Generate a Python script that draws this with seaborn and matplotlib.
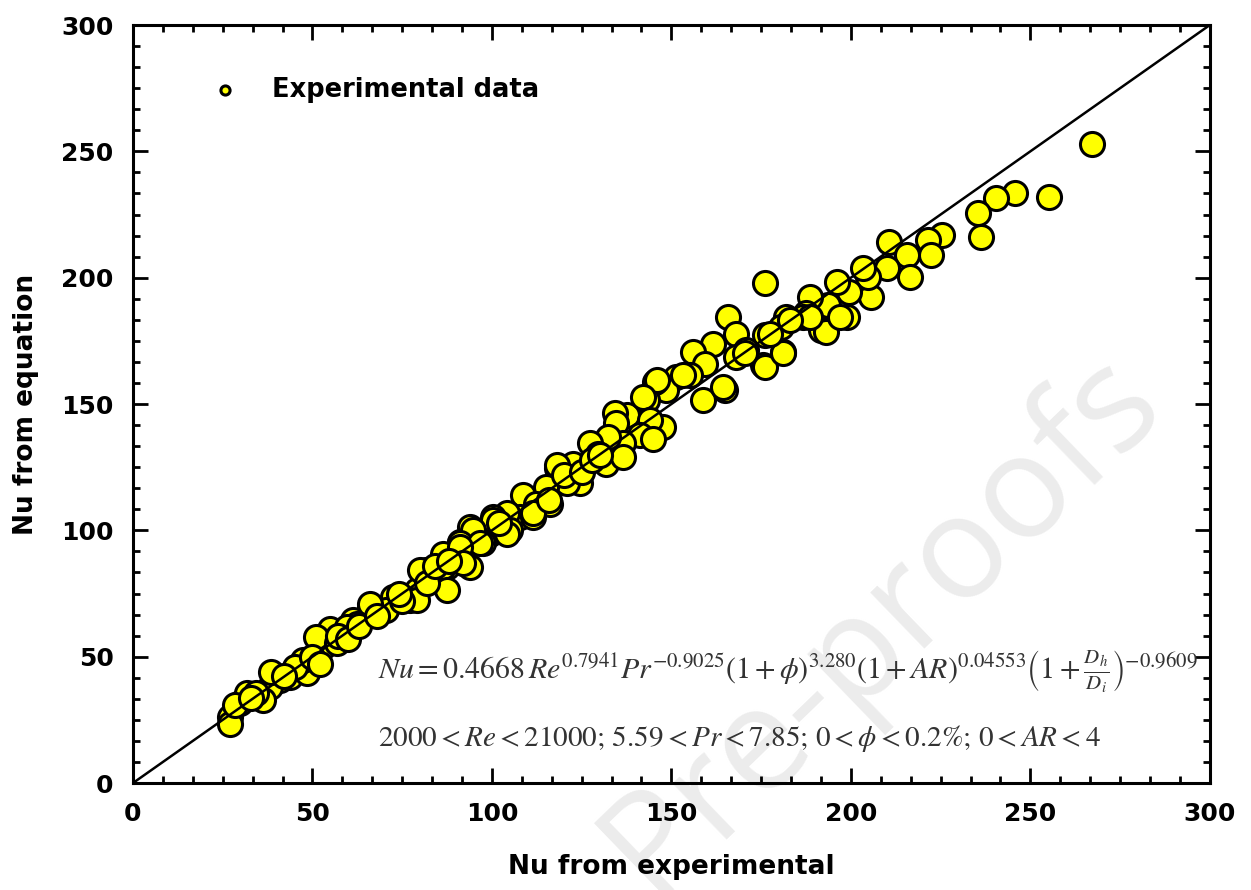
import numpy as np
import pandas as pd
import matplotlib
matplotlib.use("Agg")
import matplotlib.pyplot as plt
import seaborn as sns
from matplotlib.ticker import MultipleLocator, AutoMinorLocator

# ---- data ----
nu_exp = [
    267.3, 255.2, 245.7, 240.4, 235.5, 236.2, 225.5, 221.6, 222.4, 210.7,
    215.5, 216.4, 210.1, 205.7, 204.9, 203.3, 199.4, 196.1, 198.8, 191.8,
    193.7, 188.6, 187.6, 186.7, 182.0, 180.6, 181.1, 176.0, 165.8, 168.1,
    176.0, 175.5, 170.9, 168.1, 161.6, 156.0, 159.3, 164.9, 158.9, 155.2,
    151.4, 148.6, 145.4, 143.1, 137.5, 134.3, 170.5, 176.0, 181.1, 193.2,
    197.0, 188.6, 183.0, 177.4, 164.4, 153.3, 145.9, 142.1, 147.7, 144.0,
    134.7, 141.2, 136.6, 132.4, 127.3, 129.6, 131.9, 136.6, 122.7, 118.0,
    124.5, 120.8, 115.2, 108.7, 112.4, 116.2, 107.8, 111.5, 104.1, 100.4,
    105.0, 99.4, 93.9, 91.1, 97.6, 111.5, 100.4, 104.1, 94.8, 91.1,
    96.7, 86.4, 93.9, 81.7, 87.4, 85.5, 79.0, 72.5, 77.2, 70.6,
    66.0, 61.3, 54.9, 91.1, 86.4, 79.9, 92.0, 87.4, 79.0, 66.0,
    62.3, 59.5, 53.0, 51.1, 56.7, 43.7, 48.4, 47.4, 40.9, 38.2,
    36.3, 29.8, 27.0, 27.0, 31.7, 34.4, 38.5, 45.0, 50.0, 52.0,
    57.0, 60.0, 63.0, 68.0, 75.0, 82.0, 84.0, 88.0, 118.0, 120.0,
    125.0, 128.0, 130.0, 116.0, 145.0, 28.5, 33.0, 42.0, 74.0, 102.0,
]
nu_eq = [
    253.1, 231.8, 233.6, 231.6, 225.7, 216.2, 217.0, 214.9, 208.9, 214.3,
    208.9, 200.4, 203.7, 192.4, 200.4, 203.7, 194.5, 198.4, 184.5, 179.3,
    189.2, 192.4, 185.9, 184.5, 184.5, 180.5, 170.6, 197.8, 184.5, 177.9,
    177.3, 165.4, 171.3, 168.6, 173.9, 170.6, 166.0, 155.5, 151.6, 161.5,
    160.7, 155.5, 158.7, 151.6, 145.6, 146.3, 170.0, 164.7, 170.0, 178.6,
    184.5, 184.5, 183.2, 177.9, 156.8, 161.5, 159.5, 152.8, 141.0, 143.7,
    142.3, 137.7, 134.4, 137.0, 134.4, 130.4, 126.4, 129.0, 126.4, 124.5,
    118.6, 118.6, 117.2, 114.0, 110.6, 110.6, 105.3, 105.3, 106.7, 105.3,
    100.1, 98.7, 101.4, 95.5, 94.8, 106.7, 104.1, 98.7, 100.1, 94.8,
    94.8, 90.8, 85.5, 84.3, 85.5, 80.3, 76.4, 73.7, 72.4, 68.5,
    69.8, 64.5, 61.1, 93.6, 85.5, 84.3, 87.0, 76.4, 72.4, 71.0,
    63.1, 61.8, 53.9, 57.9, 55.3, 42.1, 43.4, 48.7, 40.8, 38.1,
    32.9, 31.6, 26.3, 23.5, 35.5, 35.5, 44.0, 46.0, 50.0, 47.0,
    58.0, 57.0, 62.0, 66.0, 72.0, 79.0, 86.0, 88.0, 126.0, 122.0,
    123.0, 128.0, 130.0, 112.0, 136.0, 30.9, 33.5, 42.5, 75.0, 103.0,
]
diag = [0, 300]
series_label = "Experimental data"
x_label = "Nu from experimental"
y_label = "Nu from equation"
eq_line1 = (r"$Nu = 0.4668\,Re^{0.7941}Pr^{-0.9025}(1+\phi)^{3.280}"
            r"(1+AR)^{0.04553}\left(1+\frac{D_h}{D_i}\right)^{-0.9609}$")
eq_line2 = (r"$2000 < Re < 21000$; $5.59 < Pr < 7.85$; "
            r"$0 < \phi < 0.2\%$; $0 < AR < 4$")

df = pd.DataFrame({"exp": nu_exp, "eq": nu_eq})

sns.set_theme(style="ticks")
plt.rcParams["font.family"] = ["DejaVu Sans"]
plt.rcParams["mathtext.fontset"] = "stix"
plt.rcParams["text.color"] = "black"
plt.rcParams["axes.labelcolor"] = "black"
plt.rcParams["xtick.color"] = "black"
plt.rcParams["ytick.color"] = "black"

fig = plt.figure(figsize=(12.51, 8.90), dpi=100)
ax = fig.add_axes([0.1063, 0.1202, 0.8608, 0.8517])

# watermark
ax.text(0.705, 0.30, "Pre-proofs", transform=fig.transFigure, rotation=44,
        fontsize=104, color="#ececec", ha="center", va="center",
        family="Open Sans", zorder=0, clip_on=False)

sns.scatterplot(data=df, x="exp", y="eq", ax=ax, s=300, color="#ffff00",
                edgecolor="black", linewidth=2.2, label=series_label,
                zorder=3, legend=True)
sns.lineplot(x=diag, y=diag, ax=ax, color="black", linewidth=1.8,
             zorder=4, legend=False)

ax.set_xlim(0, 300)
ax.set_ylim(0, 300)
ax.xaxis.set_major_locator(MultipleLocator(50))
ax.yaxis.set_major_locator(MultipleLocator(50))
ax.xaxis.set_minor_locator(AutoMinorLocator(6))
ax.yaxis.set_minor_locator(AutoMinorLocator(6))
ax.tick_params(which="both", direction="in", top=True, right=True,
               width=2.0, color="black", labelcolor="black")
ax.tick_params(which="major", length=11, pad=14, labelsize=18)
ax.tick_params(which="minor", length=4.7)
for lbl in ax.get_xticklabels() + ax.get_yticklabels():
    lbl.set_fontweight("bold")
for sp in ax.spines.values():
    sp.set_linewidth(2.2)
    sp.set_color("black")
    sp.set_visible(True)

ax.set_xlabel(x_label, fontsize=19, fontweight="bold", labelpad=20,
              color="black")
ax.set_ylabel(y_label, fontsize=19, fontweight="bold", labelpad=16,
              color="black")

leg = ax.legend(loc="center left", bbox_to_anchor=(0.04, 0.914),
                frameon=False, markerscale=0.38, handletextpad=0.85,
                prop={"weight": "bold", "size": 18.5})
for t in leg.get_texts():
    t.set_color("black")

ax.text(68.3, 43.9, eq_line1, fontsize=21.5, color="#333333",
        ha="left", va="center", zorder=5)
ax.text(68.3, 17.8, eq_line2, fontsize=21, color="#333333",
        ha="left", va="center", family="STIXGeneral", zorder=5)

fig.savefig("out.png", dpi=100)
